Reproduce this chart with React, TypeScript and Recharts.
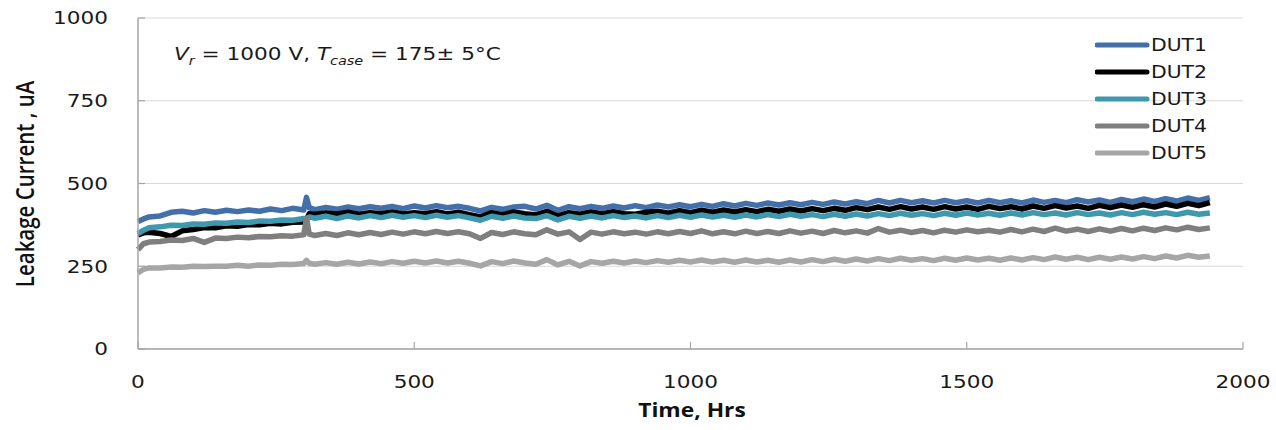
import React from "react";
import {
  LineChart,
  Line,
  XAxis,
  YAxis,
  CartesianGrid,
} from "recharts";

// ─── Data ─────────────────────────────────────────────────────────────────────
const TIME = [
  0, 10, 20, 40, 60, 80, 100, 120, 140, 160,
  180, 200, 220, 240, 260, 280, 300, 305, 310, 320,
  340, 360, 380, 400, 420, 440, 460, 480, 500, 520,
  540, 560, 580, 600, 620, 640, 660, 680, 700, 720,
  740, 760, 780, 800, 820, 840, 860, 880, 900, 920,
  940, 960, 980, 1000, 1020, 1040, 1060, 1080, 1100, 1120,
  1140, 1160, 1180, 1200, 1220, 1240, 1260, 1280, 1300, 1320,
  1340, 1360, 1380, 1400, 1420, 1440, 1460, 1480, 1500, 1520,
  1540, 1560, 1580, 1600, 1620, 1640, 1660, 1680, 1700, 1720,
  1740, 1760, 1780, 1800, 1820, 1840, 1860, 1880, 1900, 1920,
  1940,
];

const DUT1 = [
  385, 393, 399, 402, 413, 416, 411, 418, 413, 419,
  415, 420, 416, 423, 418, 425, 420, 458, 427, 421,
  428, 422, 429, 424, 430, 425, 431, 424, 432, 426,
  433, 427, 431, 425, 417, 428, 422, 429, 431, 423,
  434, 419, 430, 424, 431, 425, 432, 426, 433, 427,
  435, 429, 436, 430, 437, 431, 439, 432, 440, 434,
  441, 435, 442, 436, 443, 437, 444, 438, 445, 439,
  449, 441, 449, 442, 448, 441, 449, 442, 448, 441,
  449, 442, 448, 441, 450, 443, 449, 442, 451, 444,
  450, 443, 452, 445, 453, 446, 454, 447, 456, 449,
  457,
];

const DUT2 = [
  345, 351, 353, 349, 340, 357, 361, 367, 366, 372,
  371, 376, 375, 380, 378, 383, 384, 390, 409, 407,
  411, 408, 413, 407, 412, 409, 414, 408, 412, 409,
  415, 408, 413, 406, 399, 412, 406, 414, 409, 405,
  416, 402, 412, 407, 414, 408, 415, 409, 407, 413,
  416, 410, 418, 412, 419, 413, 420, 414, 421, 415,
  422, 416, 423, 417, 424, 418, 425, 419, 427, 421,
  429, 422, 430, 423, 429, 422, 430, 423, 429, 422,
  431, 424, 430, 423, 432, 425, 433, 426, 432, 425,
  434, 427, 435, 428, 436, 429, 438, 431, 440, 433,
  442,
];

const DUT3 = [
  348, 359, 366, 369, 374, 373, 378, 377, 381, 380,
  384, 382, 387, 386, 390, 389, 394, 393, 399, 395,
  401, 394, 402, 396, 403, 397, 404, 398, 403, 397,
  404, 398, 403, 396, 389, 401, 395, 402, 396, 394,
  403, 390, 401, 395, 402, 396, 403, 397, 402, 396,
  403, 397, 404, 398, 405, 399, 404, 398, 405, 399,
  406, 400, 407, 401, 406, 400, 407, 401, 408, 402,
  409, 403, 410, 404, 409, 403, 410, 404, 411, 405,
  410, 404, 411, 405, 412, 406, 411, 405, 412, 406,
  411, 405, 412, 406, 413, 407, 412, 406, 413, 407,
  411,
];

const DUT4 = [
  300, 318, 323, 325, 329, 328, 334, 322, 335, 334,
  338, 336, 340, 339, 342, 341, 345, 395, 347, 343,
  349, 343, 351, 345, 352, 346, 353, 347, 354, 348,
  355, 349, 354, 348, 334, 352, 346, 354, 348, 345,
  360, 347, 354, 331, 353, 347, 354, 348, 353, 347,
  354, 348, 355, 349, 357, 348, 354, 348, 356, 349,
  355, 349, 357, 350, 356, 349, 358, 351, 357, 350,
  364, 353, 359, 352, 358, 351, 359, 353, 360, 354,
  359, 353, 361, 354, 362, 355, 365, 356, 362, 355,
  363, 356, 364, 357, 365, 358, 366, 360, 368, 361,
  366,
];

const DUT5 = [
  230, 241, 245, 245, 248, 247, 250, 249, 250, 250,
  253, 250, 254, 253, 256, 255, 258, 268, 259, 256,
  261, 256, 262, 257, 263, 258, 264, 259, 265, 260,
  266, 260, 265, 259, 251, 264, 258, 266, 260, 256,
  270, 254, 265, 251, 264, 259, 265, 260, 266, 261,
  267, 262, 268, 263, 269, 263, 268, 262, 269, 263,
  268, 262, 269, 263, 270, 264, 271, 265, 272, 266,
  273, 267, 274, 268, 273, 267, 274, 268, 275, 269,
  274, 268, 275, 269, 276, 270, 278, 271, 277, 270,
  277, 271, 278, 272, 279, 273, 281, 275, 283, 277,
  281,
];

const X_TICKS = [0, 500, 1000, 1500, 2000];
const Y_TICKS = [0, 250, 500, 750, 1000];

const SERIES = [
  { key: "dut1", name: "DUT1", color: "#4470AA" },
  { key: "dut2", name: "DUT2", color: "#000000" },
  { key: "dut3", name: "DUT3", color: "#3F98AE" },
  { key: "dut4", name: "DUT4", color: "#7F7F7F" },
  { key: "dut5", name: "DUT5", color: "#A6A6A6" },
];

const data = TIME.map((t, i) => ({
  t,
  dut1: DUT1[i],
  dut2: DUT2[i],
  dut3: DUT3[i],
  dut4: DUT4[i],
  dut5: DUT5[i],
}));

const FONT = "'DejaVu Sans', Verdana, sans-serif";
const STRETCH = 1.2;
const FRAME = "#A6A6A6";

// ─── Ticks (the original is slightly stretched sideways) ──────────────────────
const XTick = ({ x, y, payload }: any) => (
  <g transform={`translate(${x},${y})`}>
    <text
      transform={`scale(${STRETCH},1)`}
      textAnchor="middle"
      dy="0.75em"
      fontSize={18}
      fontFamily={FONT}
      fill="#1a1a1a"
    >
      {payload.value}
    </text>
  </g>
);

const YTick = ({ x, y, payload }: any) => (
  <g transform={`translate(${x},${y})`}>
    <text
      transform={`scale(${STRETCH},1)`}
      textAnchor="end"
      dy="0.36em"
      fontSize={18}
      fontFamily={FONT}
      fill="#1a1a1a"
    >
      {payload.value}
    </text>
  </g>
);

// ─── Legend ───────────────────────────────────────────────────────────────────
const LegendBox = () => (
  <svg
    width={130}
    height={150}
    style={{ position: "absolute", left: 1095, top: 31 }}
  >
    {SERIES.map((s, i) => (
      <g key={s.key} transform={`translate(0,${14 + i * 27})`}>
        <line x1={2} x2={52} y1={0} y2={0} stroke={s.color} strokeWidth={5} strokeLinecap="round" />
        <g transform={`translate(56,0) scale(${STRETCH},1)`}>
          <text dy="0.36em" fontSize={17} fontFamily={FONT} fill="#1a1a1a">
            {s.name}
          </text>
        </g>
      </g>
    ))}
  </svg>
);

// ─── Chart ────────────────────────────────────────────────────────────────────
export default function App() {
  return (
    <div
      style={{
        position: "absolute",
        left: 0,
        top: 0,
        width: 1276,
        height: 430,
        background: "#fff",
        overflow: "hidden",
      }}
    >
      <LineChart
        width={1276}
        height={430}
        data={data}
        margin={{ top: 18, right: 33, bottom: 0, left: 0 }}
      >
        <CartesianGrid stroke="#D9D9D9" strokeWidth={1.2} vertical={false} />

        <XAxis
          dataKey="t"
          type="number"
          domain={[0, 2000]}
          ticks={X_TICKS}
          height={81}
          tickSize={-7}
          tickMargin={32}
          tick={<XTick />}
          axisLine={{ stroke: FRAME, strokeWidth: 1.5 }}
          tickLine={{ stroke: FRAME, strokeWidth: 1.2 }}
        />
        <XAxis
          xAxisId="top"
          orientation="top"
          type="number"
          domain={[0, 2000]}
          height={0}
          tick={false}
          tickLine={false}
          axisLine={{ stroke: FRAME, strokeWidth: 1.2 }}
        />

        <YAxis
          type="number"
          domain={[0, 1000]}
          ticks={Y_TICKS}
          width={138}
          tickSize={-7}
          tickMargin={37}
          tick={<YTick />}
          axisLine={{ stroke: FRAME, strokeWidth: 1.5 }}
          tickLine={{ stroke: FRAME, strokeWidth: 1.2 }}
        />
        <YAxis
          yAxisId="right"
          orientation="right"
          type="number"
          domain={[0, 1000]}
          width={0}
          tick={false}
          tickLine={false}
          axisLine={{ stroke: FRAME, strokeWidth: 1.5 }}
        />

        {SERIES.map((s) => (
          <Line
            key={s.key}
            dataKey={s.key}
            name={s.name}
            stroke={s.color}
            strokeWidth={5.5}
            strokeLinejoin="round"
            dot={false}
            activeDot={false}
            isAnimationActive={false}
          />
        ))}
      </LineChart>

      <LegendBox />

      {/* Axis titles */}
      <div
        style={{
          position: "absolute",
          left: 24,
          top: 184,
          transform: `translate(-50%,-50%) rotate(-90deg) scale(1,${STRETCH})`,
          whiteSpace: "nowrap",
          fontFamily: "'Open Sans', sans-serif",
          fontWeight: 600,
          fontSize: 20.5,
          color: "#111",
        }}
      >
        Leakage Current , uA
      </div>
      <div
        style={{
          position: "absolute",
          left: 692,
          top: 410,
          transform: `translate(-50%,-50%) scale(${STRETCH},1)`,
          whiteSpace: "nowrap",
          fontFamily: "'Open Sans', sans-serif",
          fontWeight: 700,
          fontSize: 19,
          color: "#111",
        }}
      >
        Time, Hrs
      </div>

      {/* Test condition note */}
      <div
        style={{
          position: "absolute",
          left: 174,
          top: 43,
          transform: `scale(${STRETCH},1)`,
          transformOrigin: "left top",
          whiteSpace: "nowrap",
          fontFamily: FONT,
          fontSize: 18,
          color: "#1a1a1a",
        }}
      >
        <i>V</i>
        <sub style={{ fontSize: 12 }}>
          <i>r</i>
        </sub>{" "}
        = 1000 V, <i>T</i>
        <sub style={{ fontSize: 12 }}>
          <i>case</i>
        </sub>{" "}
        = 175± 5°C
      </div>
    </div>
  );
}
